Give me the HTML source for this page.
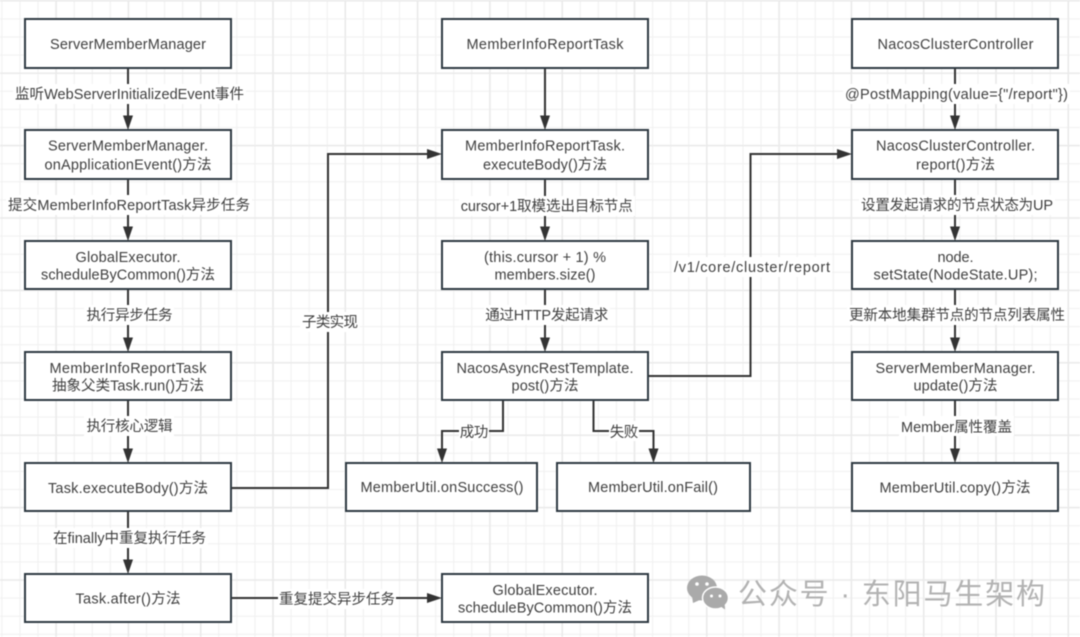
<!DOCTYPE html>
<html><head><meta charset="utf-8">
<style>
html,body{margin:0;padding:0;background:#fff}
svg{display:block;filter:blur(.4px)}
text{font-family:"Liberation Sans","Noto Sans CJK SC",sans-serif;font-size:14.5px;fill:#404040;text-anchor:middle}
.wm{font-size:29px;fill:#b2b2b2;text-anchor:start}
.b{fill:#fff;stroke:#2f3a42;stroke-width:2}
.l{fill:none;stroke:#333;stroke-width:2}
.a{fill:#333}
.lb{fill:#fff}
</style></head><body>
<svg width="1080" height="637" viewBox="0 0 1080 637" xmlns="http://www.w3.org/2000/svg">
<defs>
<pattern id="g1" width="18.075" height="18.1" patternUnits="userSpaceOnUse" x="-7.16" y="-8.25"><path d="M9.04 0V18.1M0 9.05H18.075" fill="none" stroke="#f0f0f0" stroke-width="1"/></pattern>
<pattern id="g2" width="72.3" height="72.4" patternUnits="userSpaceOnUse" x="-52.35" y="-35.4"><path d="M36.15 0V72.4M0 36.2H72.3" fill="none" stroke="#eaeaea" stroke-width="1.6"/></pattern>
</defs>
<rect width="1080" height="637" fill="#fff"/>
<rect width="1080" height="637" fill="url(#g1)"/>
<rect width="1080" height="637" fill="url(#g2)"/>

<!-- connectors -->
<path class="l" d="M128 68V118M128 179V229M128 289V340M128 400V451M128 511V562"/>
<path class="a" d="M123 115.500H133L128 130ZM123 226.500H133L128 241ZM123 337.500H133L128 352ZM123 448.500H133L128 463ZM123 559.500H133L128 574Z"/>
<path class="l" d="M545 68V118M545 179V229M545 289V340"/>
<path class="a" d="M540 115.500H550L545 130ZM540 226.500H550L545 241ZM540 337.500H550L545 352Z"/>
<path class="l" d="M955 68V118M955 179V229M955 289V340M955 400V451"/>
<path class="a" d="M950 115.500H960L955 130ZM950 226.500H960L955 241ZM950 337.500H960L955 352ZM950 448.500H960L955 463Z"/>
<path class="l" d="M231 488H328V154H430"/>
<path class="a" d="M427 149V159L442 154Z"/>
<path class="l" d="M648 376H750.500V154H840"/>
<path class="a" d="M837 149V159L852 154Z"/>
<path class="l" d="M231 598H430"/>
<path class="a" d="M427 593V603L442 598Z"/>
<path class="l" d="M503 400V431H442V451"/>
<path class="a" d="M437 448.500H447L442 463Z"/>
<path class="l" d="M593.500 400V431H653.500V451"/>
<path class="a" d="M648.500 448.500H658.500L653.500 463Z"/>

<!-- connector labels -->
<rect class="lb" x="13" y="84" width="233" height="20"/>
<text x="129.500" y="99" textLength="229">监听WebServerInitializedEvent事件</text>
<rect class="lb" x="6" y="195" width="246" height="20"/>
<text x="129" y="210" textLength="242">提交MemberInfoReportTask异步任务</text>
<rect class="lb" x="84" y="305" width="90" height="20"/>
<text x="129.500" y="320" textLength="86">执行异步任务</text>
<rect class="lb" x="84" y="416" width="90" height="20"/>
<text x="129.500" y="431" textLength="86">执行核心逻辑</text>
<rect class="lb" x="51" y="528" width="157" height="20"/>
<text x="129.500" y="543" textLength="153">在finally中重复执行任务</text>
<rect class="lb" x="278" y="589" width="118" height="20"/>
<text x="337" y="604" textLength="116">重复提交异步任务</text>
<rect class="lb" x="300" y="312" width="60" height="20"/>
<text x="330" y="327" textLength="56">子类实现</text>
<rect class="lb" x="459" y="196" width="176" height="20"/>
<text x="546.700" y="211" textLength="172">cursor+1取模选出目标节点</text>
<rect class="lb" x="484" y="305" width="126" height="20"/>
<text x="546.700" y="320" textLength="123">通过HTTP发起请求</text>
<rect class="lb" x="459" y="421" width="30" height="20"/>
<text x="474" y="437" textLength="28.500">成功</text>
<rect class="lb" x="609" y="421" width="30" height="20"/>
<text x="624" y="437" textLength="28.500">失败</text>
<rect class="lb" x="672" y="257" width="160" height="20"/>
<text x="752" y="272" textLength="156">/v1/core/cluster/report</text>
<rect class="lb" x="843" y="84" width="227" height="20"/>
<text x="956.500" y="99" textLength="223">@PostMapping(value={"/report"})</text>
<rect class="lb" x="859" y="195" width="196" height="20"/>
<text x="957" y="210" textLength="192">设置发起请求的节点状态为UP</text>
<rect class="lb" x="847" y="305" width="220" height="20"/>
<text x="957" y="320" textLength="216">更新本地集群节点的节点列表属性</text>
<rect class="lb" x="899" y="416" width="115" height="20"/>
<text x="956.500" y="432" textLength="111">Member属性覆盖</text>

<!-- left column -->
<rect class="b" x="25" y="19" width="206" height="49"/>
<text x="128" y="49" textLength="156">ServerMemberManager</text>
<rect class="b" x="25" y="130" width="206" height="49"/>
<text x="128" y="150.500" textLength="160">ServerMemberManager.</text><text x="128" y="169.500" textLength="167">onApplicationEvent()方法</text>
<rect class="b" x="25" y="241" width="206" height="48"/>
<text x="128" y="262" textLength="105">GlobalExecutor.</text><text x="128" y="279.500" textLength="174">scheduleByCommon()方法</text>
<rect class="b" x="25" y="352" width="206" height="48"/>
<text x="128" y="373" textLength="157">MemberInfoReportTask</text><text x="128" y="390.500" textLength="152">抽象父类Task.run()方法</text>
<rect class="b" x="25" y="463" width="206" height="48"/>
<text x="128" y="493" textLength="160">Task.executeBody()方法</text>
<rect class="b" x="25" y="574" width="206" height="48"/>
<text x="128" y="603.500" textLength="105">Task.after()方法</text>

<!-- center column -->
<rect class="b" x="442" y="19" width="206" height="49"/>
<text x="545" y="49" textLength="157">MemberInfoReportTask</text>
<rect class="b" x="442" y="130" width="206" height="49"/>
<text x="545" y="150.500" textLength="160">MemberInfoReportTask.</text><text x="545" y="169.500" textLength="124">executeBody()方法</text>
<rect class="b" x="442" y="241" width="206" height="48"/>
<text x="545" y="262" textLength="122">(this.cursor + 1) %</text><text x="545" y="279.500" textLength="101">members.size()</text>
<rect class="b" x="442" y="352" width="206" height="48"/>
<text x="545" y="373" textLength="177">NacosAsyncRestTemplate.</text><text x="545" y="390.500" textLength="67">post()方法</text>
<rect class="b" x="346" y="463" width="191" height="48"/>
<text x="442" y="492" textLength="163">MemberUtil.onSuccess()</text>
<rect class="b" x="557" y="463" width="193" height="48"/>
<text x="653" y="492" textLength="130">MemberUtil.onFail()</text>
<rect class="b" x="442" y="574" width="206" height="48"/>
<text x="545" y="595" textLength="105">GlobalExecutor.</text><text x="545" y="612.500" textLength="174">scheduleByCommon()方法</text>

<!-- right column -->
<rect class="b" x="852" y="19" width="206" height="49"/>
<text x="955.500" y="49" textLength="156">NacosClusterController</text>
<rect class="b" x="852" y="130" width="206" height="49"/>
<text x="955.500" y="150.500" textLength="159">NacosClusterController.</text><text x="955.500" y="169.500" textLength="79">report()方法</text>
<rect class="b" x="852" y="241" width="206" height="48"/>
<text x="955.500" y="262" textLength="36">node.</text><text x="955.500" y="279.500" textLength="164">setState(NodeState.UP);</text>
<rect class="b" x="852" y="352" width="206" height="48"/>
<text x="955.500" y="373" textLength="160">ServerMemberManager.</text><text x="955.500" y="390.500" textLength="84">update()方法</text>
<rect class="b" x="852" y="463" width="206" height="48"/>
<text x="955" y="492.500" textLength="151">MemberUtil.copy()方法</text>

<!-- watermark -->
<g fill="#aaa">
<ellipse cx="702" cy="588" rx="15" ry="12.500"/><path d="M692 596L693 603L702 599Z"/>
<ellipse cx="715.500" cy="598" rx="13" ry="11" stroke="#fff" stroke-width="1.500"/><path d="M720 606L725 609.500L724.500 602Z"/>
</g>
<g fill="#fff"><circle cx="697" cy="584" r="1.800"/><circle cx="707" cy="584" r="1.800"/><circle cx="711.500" cy="596" r="1.500"/><circle cx="720" cy="596" r="1.500"/></g>
<text class="wm" x="738" y="604" textLength="307">公众号 · 东阳马生架构</text>
</svg>
</body></html>
